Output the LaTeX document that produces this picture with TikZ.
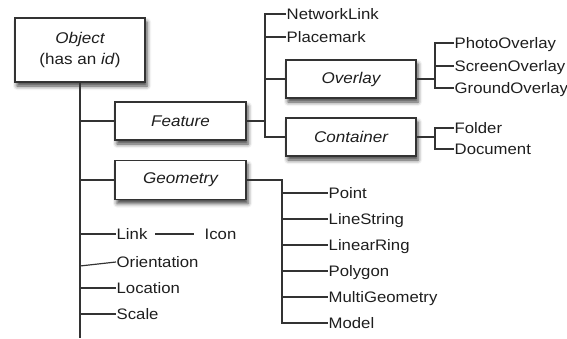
\documentclass[tikz,border=0pt]{standalone}
\usepackage{fontspec}
\setmainfont{Liberation Sans}[FakeStretch=1.1]
\usetikzlibrary{shadows.blur}
\definecolor{ln}{HTML}{333333}
\definecolor{tx}{HTML}{1E1E1E}
\begin{document}
\begin{tikzpicture}[x=1pt,y=-1pt,
  conn/.style={draw=ln, line width=1.2pt},
  lbl/.style={font=\fontsize{15.2}{20}\selectfont, text=tx, inner sep=0.5pt, text height=11pt, text depth=0pt, anchor=west},
  cls/.style={draw=ln, line width=1.2pt, fill=white, font=\fontsize{15.5}{21}\selectfont\itshape, text=tx,
    blur shadow={shadow xshift=2pt, shadow yshift=-4pt, shadow blur radius=4pt, shadow opacity=75}}]
\useasboundingbox (0,0) rectangle (567,338);
% boxes
\node[cls, minimum width=130pt, minimum height=64pt, align=center] (Object) at (80,50) {Object\\\upshape(has an \textit{id})};
\node[cls, minimum width=131pt, minimum height=38pt] (Feature) at (180.5,121) {Feature};
\node[cls, minimum width=131pt, minimum height=39pt] (Geometry) at (180.5,180) {Geometry};
\node[cls, minimum width=130pt, minimum height=38pt] (Overlay) at (351,79) {Overlay};
\node[cls, minimum width=130pt, minimum height=38pt] (Container) at (351,137) {Container};
% spine
\coordinate (spineEnd) at (80,338);
\draw[conn] (Object.south) -- (spineEnd);
\draw[conn] (Feature.west -| Object.south) -- (Feature.west);
\draw[conn] (Geometry.west -| Object.south) -- (Geometry.west);
% left leaves
\node[lbl] (Link) at (116,234) {Link};
\node[lbl] (Icon) at (204,234) {Icon};
\node[lbl] (Orientation) at (116,262) {Orientation};
\node[lbl] (Location) at (116,288) {Location};
\node[lbl] (Scale) at (116,314) {Scale};
\draw[conn] (Link.west -| Object.south) -- (Link.west);
\draw[conn, shorten <=7pt, shorten >=10pt] (Link.east) -- (Icon.west);
\coordinate (oriL) at (80,266);
\draw[conn] (oriL) -- (Orientation.west);
\draw[conn] (Location.west -| Object.south) -- (Location.west);
\draw[conn] (Scale.west -| Object.south) -- (Scale.west);
% feature children
\coordinate (fv) at (265,0);
\node[lbl] (NetworkLink) at (286,14) {NetworkLink};
\node[lbl] (Placemark) at (286,37) {Placemark};
\draw[conn] (Feature.east) -- (Feature.east -| fv);
\draw[conn] (NetworkLink.west) -- (NetworkLink.west -| fv) -- (Container.west -| fv) -- (Container.west);
\draw[conn] (Placemark.west -| fv) -- (Placemark.west);
\draw[conn] (Overlay.west -| fv) -- (Overlay.west);
% overlay children
\coordinate (ov) at (435,0);
\node[lbl] (PhotoOverlay) at (454,43) {PhotoOverlay};
\node[lbl] (ScreenOverlay) at (454,66) {ScreenOverlay};
\node[lbl] (GroundOverlay) at (454,88) {GroundOverlay};
\draw[conn] (Overlay.east) -- (Overlay.east -| ov);
\draw[conn] (PhotoOverlay.west) -- (PhotoOverlay.west -| ov) -- (GroundOverlay.west -| ov) -- (GroundOverlay.west);
\draw[conn] (ScreenOverlay.west -| ov) -- (ScreenOverlay.west);
% container children
\node[lbl] (Folder) at (454,128) {Folder};
\node[lbl] (Document) at (454,149) {Document};
\draw[conn] (Container.east) -- (Container.east -| ov);
\draw[conn] (Folder.west) -- (Folder.west -| ov) -- (Document.west -| ov) -- (Document.west);
% geometry children
\coordinate (gv) at (282,0);
\node[lbl] (Point) at (328,193) {Point};
\node[lbl] (LineString) at (328,219) {LineString};
\node[lbl] (LinearRing) at (328,245) {LinearRing};
\node[lbl] (Polygon) at (328,271) {Polygon};
\node[lbl] (MultiGeometry) at (328,297) {MultiGeometry};
\node[lbl] (Model) at (328,323) {Model};
\draw[conn] (Geometry.east) -- (Geometry.east -| gv) -- (Model.west -| gv) -- (Model.west);
\foreach \n in {Point,LineString,LinearRing,Polygon,MultiGeometry}
  \draw[conn] (\n.west -| gv) -- (\n.west);
\end{tikzpicture}
\end{document}
